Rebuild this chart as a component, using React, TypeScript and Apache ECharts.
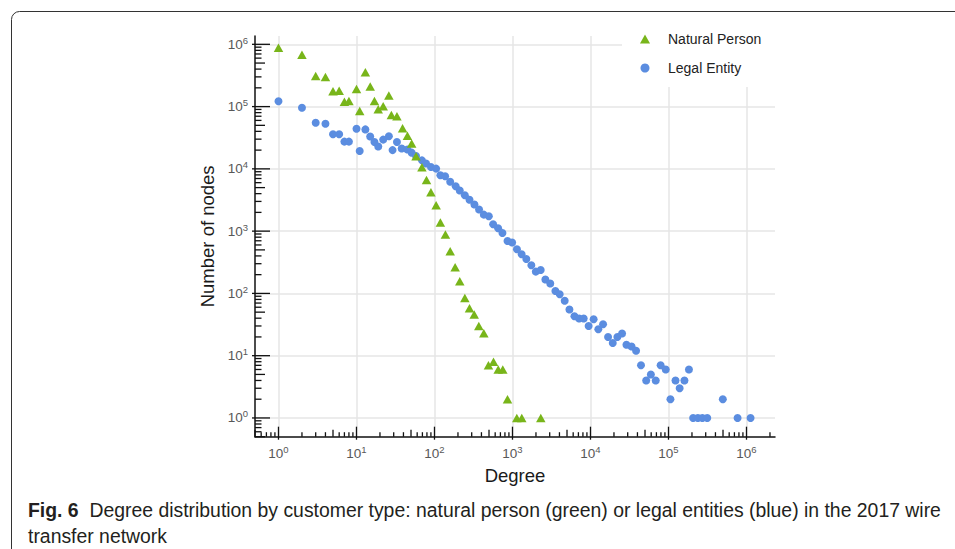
import { useEffect, useRef } from "react";
import * as echarts from "echarts";

// Natural persons: degree bins and number of nodes
const naturalDegree = [1, 2, 3, 4, 5, 6, 7, 8, 10, 11, 13, 15, 17, 19, 22, 26, 28, 33, 39, 45, 51, 58, 69, 79, 90, 105, 119, 138, 159, 184, 211, 245, 281, 323, 370, 429, 492, 571, 656, 751, 863, 1136, 1316, 2306];
const naturalCount = [8.8e5, 6.8e5, 3.1e5, 3.0e5, 1.76e5, 1.8e5, 1.2e5, 1.23e5, 1.92e5, 8.5e4, 3.56e5, 2.1e5, 1.23e5, 9.1e4, 1.01e5, 1.5e5, 7.3e4, 7.0e4, 4.5e4, 3.4e4, 2.55e4, 1.6e4, 1.06e4, 6.6e3, 4.2e3, 2.6e3, 1.38e3, 880, 475, 263, 157, 84, 58, 46, 30, 23, 7, 8, 6, 6, 2, 1, 1, 1];

// Legal entities: degree bins and number of nodes
const legalDegree = [1, 2, 3, 4, 5, 6, 7, 8, 10, 11, 13, 15, 17, 19, 22, 26, 29, 33, 38, 45, 51, 58, 69, 78, 90, 105, 119, 137, 159, 187, 211, 245, 281, 325, 373, 429, 497, 565, 655, 743, 863, 990, 1140, 1310, 1505, 1745, 1990, 2300, 2640, 3050, 3550, 4030, 4670, 5370, 6230, 7150, 8180, 9470, 10970, 12600, 14500, 16800, 19300, 22100, 25400, 28900, 33600, 38400, 44400, 51800, 59400, 68600, 79300, 92200, 106000, 123000, 139000, 160000, 183000, 207000, 238000, 272000, 314000, 497000, 768000, 1128000];
const legalCount = [1.22e5, 9.6e4, 5.5e4, 5.3e4, 3.6e4, 3.6e4, 2.74e4, 2.74e4, 4.4e4, 1.94e4, 4.3e4, 3.3e4, 2.7e4, 2.28e4, 2.95e4, 3.34e4, 2.0e4, 2.7e4, 2.12e4, 2.04e4, 1.82e4, 1.61e4, 1.37e4, 1.22e4, 1.07e4, 1.01e4, 7.9e3, 7.6e3, 6.2e3, 5.25e3, 4.5e3, 3.77e3, 3.2e3, 2.67e3, 2.22e3, 1.84e3, 1.73e3, 1.29e3, 1.11e3, 933, 695, 655, 511, 425, 357, 283, 224, 238, 167, 144, 109, 97, 76, 55, 43, 39.5, 39.5, 30, 38.4, 26.6, 31.9, 20, 16, 20, 22.7, 15, 14, 12, 7, 4, 5, 4, 7, 6, 2, 4, 3, 4, 6, 1, 1, 1, 1, 2, 1, 1];

// Axis ranges and the decades that carry ticks
const xRange = [0.5, 2.32e6];
const yRange = [0.5, 1.36e6];
const tickDecades = [-1, 0, 1, 2, 3, 4, 5, 6];
const tickMultiples = [1, 2, 3, 4, 5, 6, 7, 8, 9];

const GREEN = "#78b51a";
const BLUE = "#5b8de0";
const LABEL_FONT = "'Liberation Sans', Arial, Helvetica, sans-serif";

// Log-axis ticks: kind 0 = decade, 1 = 5x, 2 = other multiples
function logTicks(range: number[]) {
  const out: number[][] = [];
  for (const d of tickDecades) {
    for (const m of tickMultiples) {
      const v = m * Math.pow(10, d);
      if (v >= range[0] && v <= range[1]) out.push([v, m === 1 ? 0 : m === 5 ? 1 : 2]);
    }
  }
  return out;
}

function decadeLabel(v: number) {
  const e = Math.log10(v);
  const r = Math.round(e);
  if (Math.abs(e - r) > 1e-6) return "";
  return `{b|10}{s|${r}}`;
}

const labelRich = {
  b: { fontSize: 13.5, color: "#585858", lineHeight: 18, verticalAlign: "middle", fontFamily: LABEL_FONT },
  s: { fontSize: 9.5, color: "#585858", lineHeight: 10, verticalAlign: "top", fontFamily: LABEL_FONT },
};

export default function App() {
  const ref = useRef<HTMLDivElement>(null);

  useEffect(() => {
    if (!ref.current) return;
    const chart = echarts.init(ref.current, undefined, { renderer: "svg" });

    const xTicks = logTicks(xRange).map(([v, k]) => [v, yRange[0], k]);
    const yTicks = logTicks(yRange).map(([v, k]) => [xRange[0], v, k]);

    chart.setOption({
      animation: false,
      backgroundColor: "#fff",
      grid: { left: 255, right: 180, top: 36, bottom: 112.3, containLabel: false },
      xAxis: {
        type: "log",
        logBase: 10,
        min: xRange[0],
        max: xRange[1],
        splitNumber: 7,
        name: "Degree",
        nameLocation: "middle",
        nameGap: 20,
        nameTextStyle: { fontSize: 18.5, color: "#1a1a1a", fontFamily: LABEL_FONT },
        axisLine: { show: true, lineStyle: { color: "#111", width: 1.5 } },
        axisTick: { show: false },
        minorTick: { show: false },
        axisLabel: { formatter: decadeLabel, rich: labelRich, margin: 8, showMinLabel: false, showMaxLabel: false },
        splitLine: { show: true, showMinLine: false, showMaxLine: false, lineStyle: { color: "#e6e6e6", width: 1.5 } },
      },
      yAxis: {
        type: "log",
        logBase: 10,
        min: yRange[0],
        max: yRange[1],
        splitNumber: 7,
        name: "Number of nodes",
        nameLocation: "middle",
        nameGap: 30,
        nameTextStyle: { fontSize: 18.5, color: "#1a1a1a", fontFamily: LABEL_FONT },
        axisLine: { show: true, lineStyle: { color: "#111", width: 1.5 } },
        axisTick: { show: false },
        minorTick: { show: false },
        axisLabel: { formatter: decadeLabel, rich: labelRich, margin: 7, showMinLabel: false, showMaxLabel: false },
        splitLine: { show: true, showMinLine: false, showMaxLine: false, lineStyle: { color: "#e6e6e6", width: 1.5 } },
      },
      legend: {
        orient: "vertical",
        left: 622,
        top: 22,
        padding: [10, 14, 12, 18],
        backgroundColor: "#fff",
        itemWidth: 10,
        itemHeight: 9,
        itemGap: 15,
        textStyle: { fontSize: 14, color: "#222", fontFamily: LABEL_FONT, padding: [0, 0, 0, 13] },
        data: [
          { name: "Natural Person", icon: "triangle" },
          { name: "Legal Entity", icon: "circle" },
        ],
      },
      series: [
        {
          name: "Legal Entity",
          type: "scatter",
          symbol: "circle",
          symbolSize: 8,
          itemStyle: { color: BLUE, opacity: 1 },
          data: legalDegree.map((d, i) => [d, legalCount[i]]),
          z: 3,
        },
        {
          name: "Natural Person",
          type: "scatter",
          symbol: "triangle",
          symbolSize: [9.5, 8.5],
          itemStyle: { color: GREEN, opacity: 1 },
          data: naturalDegree.map((d, i) => [d, naturalCount[i]]),
          z: 4,
        },
        {
          type: "custom",
          silent: true,
          clip: false,
          z: 10,
          encode: { x: 0, y: 1 },
          data: xTicks,
          renderItem: (_p: any, api: any) => {
            const kind = api.value(2);
            const pt = api.coord([api.value(0), api.value(1)]);
            const up = kind === 0 ? 10 : kind === 1 ? 7 : 4.5;
            const down = kind === 0 ? 3 : 0;
            return {
              type: "line",
              shape: { x1: pt[0], y1: pt[1] + down, x2: pt[0], y2: pt[1] - up },
              style: { stroke: "#111", lineWidth: 1.3 },
            };
          },
        },
        {
          type: "custom",
          silent: true,
          clip: false,
          z: 10,
          encode: { x: 0, y: 1 },
          data: yTicks,
          renderItem: (_p: any, api: any) => {
            const kind = api.value(2);
            const pt = api.coord([api.value(0), api.value(1)]);
            const right = kind === 0 ? 15 : kind === 1 ? 10 : 6.5;
            const left = kind === 0 ? 3 : 0;
            return {
              type: "line",
              shape: { x1: pt[0] - left, y1: pt[1], x2: pt[0] + right, y2: pt[1] },
              style: { stroke: "#111", lineWidth: 1.3 },
            };
          },
        },
      ],
      graphic: [
        {
          type: "rect",
          shape: { x: 11.5, y: 11.5, width: 1000, height: 600, r: 8 },
          style: { fill: "none", stroke: "#333", lineWidth: 1 },
          silent: true,
        },
        {
          type: "text",
          x: 28,
          y: 510,
          style: {
            text: "{b|Fig. 6}  Degree distribution by customer type: natural person (green) or legal entities (blue) in the 2017 wire",
            fontSize: 19.4,
            fontFamily: LABEL_FONT,
            fill: "#231f20",
            verticalAlign: "middle",
            rich: { b: { fontWeight: "bold", fontSize: 19.4, fontFamily: LABEL_FONT, fill: "#231f20" } },
          },
        },
        {
          type: "text",
          x: 28,
          y: 536,
          style: {
            text: "transfer network",
            fontSize: 19.4,
            fontFamily: LABEL_FONT,
            fill: "#231f20",
            verticalAlign: "middle",
          },
        },
      ],
    });

    return () => chart.dispose();
  }, []);

  return (
    <div
      ref={ref}
      style={{ position: "fixed", left: 0, top: 0, width: 955, height: 549, background: "#fff" }}
    />
  );
}
